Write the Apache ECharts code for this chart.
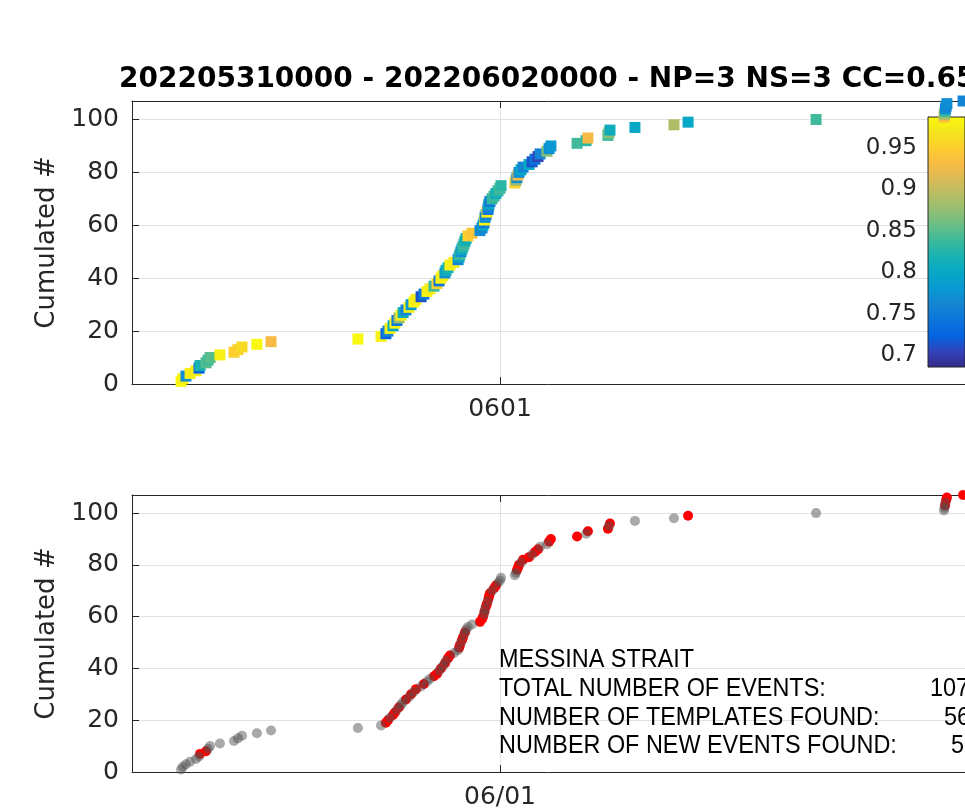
<!DOCTYPE html>
<html><head><meta charset="utf-8">
<script src="https://cdn.jsdelivr.net/npm/echarts@6/dist/echarts.min.js"></script>
<style>html,body{margin:0;padding:0;background:#fff}#c{width:965px;height:810px}</style>
</head><body><div id="c"></div><script>
// event times, hours since 2022-05-31 00:00 (sorted)
const eventHours = [
  8.40, 8.49, 8.64, 8.84, 9.13, 9.28, 9.33, 9.62, 9.72, 9.82,
  10.30, 10.99, 11.18, 11.38, 12.11, 12.80, 17.05, 18.18, 18.42, 18.52,
  18.62, 18.77, 18.86, 18.96, 19.06, 19.16, 19.26, 19.40, 19.55, 19.65,
  19.79, 19.89, 20.14, 20.28, 20.43, 20.58, 20.77, 20.92, 21.02, 21.11,
  21.21, 21.31, 21.36, 21.46, 21.55, 21.75, 21.95, 22.00, 22.04, 22.09,
  22.14, 22.19, 22.24, 22.29, 22.34, 22.43, 22.63, 23.02, 23.12, 23.17,
  23.22, 23.24, 23.27, 23.32, 23.36, 23.41, 23.44, 23.46, 23.51, 23.61,
  23.71, 23.80, 23.90, 24.00, 24.05, 24.73, 24.78, 24.83, 24.88, 24.93,
  25.03, 25.13, 25.42, 25.57, 25.71, 25.86, 25.96, 26.30, 26.40, 26.49,
  27.77, 28.21, 28.30, 29.28, 29.33, 29.38, 30.60, 32.51, 33.20, 39.46,
  45.72, 45.74, 45.77, 45.79, 45.82, 45.86, 46.65
];
// correlation coefficient of each event
const eventCC = [
  0.987, 0.98, 0.77, 0.975, 0.975, 0.725, 0.82, 0.85, 0.84, 0.85,
  0.98, 0.95, 0.95, 0.96, 0.985, 0.93, 0.985, 0.98, 0.725, 0.76,
  0.98, 0.80, 0.98, 0.75, 0.88, 0.98, 0.81, 0.76, 0.98, 0.78,
  0.985, 0.975, 0.715, 0.75, 0.98, 0.975, 0.84, 0.95, 0.74, 0.98,
  0.975, 0.77, 0.81, 0.82, 0.98, 0.975, 0.76, 0.80, 0.84, 0.77,
  0.81, 0.83, 0.84, 0.82, 0.81, 0.95, 0.94, 0.77, 0.76, 0.80,
  0.75, 0.98, 0.77, 0.76, 0.975, 0.74, 0.76, 0.80, 0.75, 0.83,
  0.84, 0.81, 0.83, 0.84, 0.83, 0.95, 0.88, 0.77, 0.93, 0.77,
  0.80, 0.76, 0.80, 0.715, 0.74, 0.705, 0.76, 0.87, 0.77, 0.78,
  0.84, 0.83, 0.93, 0.84, 0.87, 0.81, 0.80, 0.89, 0.80, 0.84,
  0.93, 0.88, 0.84, 0.77, 0.76, 0.77, 0.76
];
// 1 = new event found, 0 = template
const isNewEvent = [
  0,0,0,0,0,0,1,1,0,0,
  0,0,0,0,0,0,0,0,1,1,
  0,1,1,0,1,0,0,1,0,1,
  0,1,0,1,0,0,1,1,0,1,
  0,1,0,1,1,0,0,1,1,0,
  1,1,0,1,0,0,0,1,1,1,
  0,1,0,1,1,0,1,1,1,0,
  1,1,0,0,0,0,0,1,1,1,
  0,1,1,0,1,1,0,0,1,1,
  1,0,1,1,0,1,0,0,1,0,
  0,0,1,0,1,1,1
];
const ccLimits = [0.686, 0.987];
const xTickHours = [24];
const xTickLabelsTop = ['0601'];
const xTickLabelsBottom = ['06/01'];
const yTicks = [0, 20, 40, 60, 80, 100];
const ccTicks = [0.7, 0.75, 0.8, 0.85, 0.9, 0.95];
const titleText = '202205310000 - 202206020000 - NP=3 NS=3 CC=0.65';
const regionName = 'MESSINA STRAIT';
const infoLabels = ['TOTAL NUMBER OF EVENTS:', 'NUMBER OF TEMPLATES FOUND:', 'NUMBER OF NEW EVENTS FOUND:'];
const parula = ['#352a87','#3243b9','#0363e1','#0d75dc','#1485d4','#0998d1','#06a7c6','#15b1b4',
  '#38b99e','#65be86','#92bf73','#b7bd64','#d9ba56','#f8bb44','#fcce2e','#f5e41d','#f9fa0e'];

const xMin = 6, xMax = 46.745, yMax = 107;
const ccMin = ccLimits[0], ccMax = ccLimits[1];
const nTotal = eventHours.length;
const nNew = isNewEvent.filter(v => v === 1).length;
const nTemplates = nTotal - nNew;
const infoValues = [nTotal, nTemplates, nNew];

const topData = eventHours.map((h, i) => [h, i + 1, eventCC[i]]);
const newData = [], tplData = [];
eventHours.forEach((h, i) => { (isNewEvent[i] ? newData : tplData).push([h, i + 1]); });

const AX = '#262626', GRID = '#e2e2e2';
const FONT = 'DejaVu Sans';

function xAxisMain(gridIndex, labels) {
  return {
    type: 'value', gridIndex, min: xMin, max: xMax, position: 'bottom',
    axisLine: { show: true, onZero: false, lineStyle: { color: AX, width: 1 } },
    axisTick: { show: true, inside: true, length: 7, customValues: xTickHours, lineStyle: { color: AX } },
    axisLabel: { show: true, customValues: xTickHours, margin: 13, fontSize: 25, fontFamily: FONT, color: AX,
      formatter: v => labels[xTickHours.indexOf(v)] || '' },
    splitLine: { show: true, lineStyle: { color: GRID, width: 1 } }
  };
}
function xAxisTop(gridIndex) {
  return {
    type: 'value', gridIndex, min: xMin, max: xMax, position: 'top',
    axisLine: { show: true, onZero: false, lineStyle: { color: AX, width: 1 } },
    axisTick: { show: true, inside: true, length: 7, customValues: xTickHours, lineStyle: { color: AX } },
    axisLabel: { show: false }, splitLine: { show: false }
  };
}
function yAxisMain(gridIndex) {
  return {
    type: 'value', gridIndex, min: 0, max: yMax, position: 'left',
    name: 'Cumulated #', nameLocation: 'middle', nameGap: 72,
    nameTextStyle: { fontSize: 26, fontFamily: FONT, color: AX },
    axisLine: { show: true, onZero: false, lineStyle: { color: AX, width: 1 } },
    axisTick: { show: true, inside: true, length: 7, customValues: yTicks, lineStyle: { color: AX } },
    axisLabel: { show: true, customValues: yTicks, margin: 13, fontSize: 25, fontFamily: FONT, color: AX },
    splitLine: { show: true, lineStyle: { color: GRID, width: 1 } }
  };
}

const colorStops = parula.map((c, i) => ({ offset: 1 - i / (parula.length - 1), color: c })).reverse();
const textFont = '26px "Liberation Sans"';
function infoText(txt, x, y) {
  return { type: 'text', x: x, y: y, scaleX: 0.9, z: 100,
    style: { text: txt, font: textFont, fill: '#000', verticalAlign: 'middle', textVerticalAlign: 'middle' } };
}

const chart = echarts.init(document.getElementById('c'), null, { renderer: 'canvas' });
chart.setOption({
  backgroundColor: '#ffffff',
  animation: false,
  title: {
    text: titleText, left: 119, top: 66, padding: 0,
    textStyle: { fontSize: 28, fontWeight: 'bold', fontFamily: FONT, color: '#000' }
  },
  grid: [
    { left: 132, top: 101, right: 0, height: 283 },
    { left: 132, top: 495, right: 0, height: 284 },
    { left: 928, top: 117, width: 50, height: 250 }
  ],
  xAxis: [
    xAxisMain(0, xTickLabelsTop),
    xAxisMain(1, xTickLabelsBottom),
    { type: 'value', gridIndex: 2, min: 0, max: 1, show: false },
    xAxisTop(0),
    xAxisTop(1)
  ],
  yAxis: [
    yAxisMain(0),
    yAxisMain(1),
    {
      type: 'value', gridIndex: 2, min: ccMin, max: ccMax, position: 'left',
      axisLine: { show: true, lineStyle: { color: AX } },
      axisTick: { show: true, inside: true, length: 4, customValues: ccTicks, lineStyle: { color: AX } },
      axisLabel: { show: true, customValues: ccTicks, margin: 11, fontSize: 23, fontFamily: FONT, color: AX },
      splitLine: { show: false }
    }
  ],
  visualMap: {
    type: 'continuous', show: false, min: ccMin, max: ccMax, dimension: 2, seriesIndex: 0,
    inRange: { color: parula }
  },
  series: [
    {
      type: 'scatter', xAxisIndex: 0, yAxisIndex: 0, symbol: 'rect', symbolSize: 11,
      data: topData, itemStyle: { opacity: 1 }
    },
    {
      type: 'scatter', xAxisIndex: 1, yAxisIndex: 1, symbol: 'circle', symbolSize: 10,
      data: newData, itemStyle: { color: '#ff0000', opacity: 1 }
    },
    {
      type: 'scatter', xAxisIndex: 1, yAxisIndex: 1, symbol: 'circle', symbolSize: 10,
      data: tplData, itemStyle: { color: '#505050', opacity: 0.49 }
    },
    {
      type: 'custom', xAxisIndex: 2, yAxisIndex: 2, silent: true,
      data: [[0, ccMin, ccMax]],
      renderItem: function (params, api) {
        const pTop = api.coord([0, api.value(2)]);
        const pBot = api.coord([1, api.value(1)]);
        return {
          type: 'rect',
          shape: { x: pTop[0], y: pTop[1], width: pBot[0] - pTop[0], height: pBot[1] - pTop[1] },
          style: { fill: new echarts.graphic.LinearGradient(0, 0, 0, 1, colorStops), stroke: AX, lineWidth: 1 }
        };
      }
    }
  ],
  graphic: [
    infoText(regionName, 499, 660),
    infoText(infoLabels[0], 499, 689),
    infoText(infoLabels[1], 499, 717.5),
    infoText(infoLabels[2], 499, 746),
    infoText(String(infoValues[0]), 930, 689),
    infoText(String(infoValues[1]), 944, 717.5),
    infoText(String(infoValues[2]), 951, 746)
  ]
});
</script></body></html>
